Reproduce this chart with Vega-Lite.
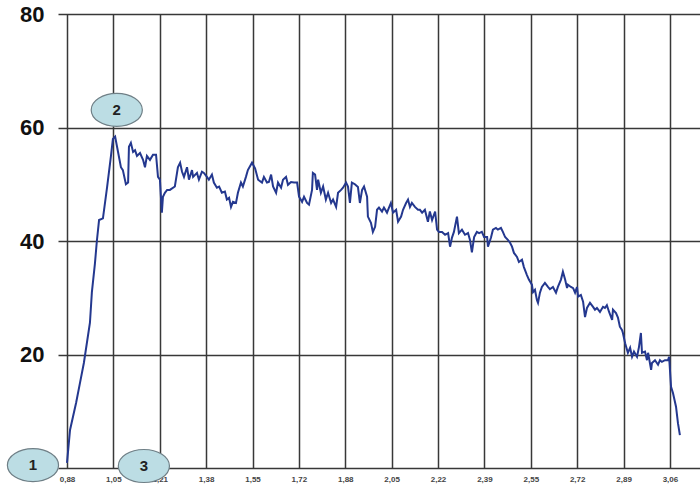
{
  "$schema": "https://vega.github.io/schema/vega-lite/v6.json",
  "width": 642,
  "height": 454,
  "autosize": {"type": "none"},
  "padding": {"left": 58, "top": 14, "right": 0, "bottom": 19},
  "background": "white",
  "config": {"view": {"stroke": null}},
  "datasets": {
    "curve": [
      {"x": 0.880, "y": 0.9}, {"x": 0.891, "y": 6.7}, {"x": 0.913, "y": 11.5}, {"x": 0.927, "y": 15.0},
      {"x": 0.941, "y": 18.5}, {"x": 0.963, "y": 25.6}, {"x": 0.970, "y": 31.0}, {"x": 0.981, "y": 36.0},
      {"x": 0.988, "y": 40.0}, {"x": 0.996, "y": 43.7}, {"x": 1.010, "y": 44.0}, {"x": 1.025, "y": 49.5},
      {"x": 1.039, "y": 55.0}, {"x": 1.046, "y": 58.0}, {"x": 1.054, "y": 58.4}, {"x": 1.061, "y": 56.6},
      {"x": 1.075, "y": 53.0}, {"x": 1.082, "y": 52.5}, {"x": 1.093, "y": 50.0}, {"x": 1.101, "y": 50.3},
      {"x": 1.104, "y": 56.6}, {"x": 1.111, "y": 57.3}, {"x": 1.119, "y": 55.7}, {"x": 1.126, "y": 56.0},
      {"x": 1.133, "y": 55.0}, {"x": 1.144, "y": 55.5}, {"x": 1.155, "y": 54.3}, {"x": 1.162, "y": 53.0},
      {"x": 1.169, "y": 55.0}, {"x": 1.180, "y": 54.3}, {"x": 1.191, "y": 55.2}, {"x": 1.202, "y": 55.2},
      {"x": 1.209, "y": 51.3}, {"x": 1.216, "y": 50.8}, {"x": 1.223, "y": 45.0}, {"x": 1.227, "y": 47.8},
      {"x": 1.234, "y": 48.5}, {"x": 1.242, "y": 49.0}, {"x": 1.252, "y": 49.0}, {"x": 1.270, "y": 49.6},
      {"x": 1.281, "y": 53.0}, {"x": 1.289, "y": 53.8}, {"x": 1.296, "y": 52.2}, {"x": 1.303, "y": 51.3},
      {"x": 1.314, "y": 53.0}, {"x": 1.321, "y": 50.8}, {"x": 1.332, "y": 52.5}, {"x": 1.336, "y": 51.3},
      {"x": 1.350, "y": 52.0}, {"x": 1.357, "y": 50.8}, {"x": 1.368, "y": 52.2}, {"x": 1.375, "y": 52.0},
      {"x": 1.386, "y": 51.3}, {"x": 1.393, "y": 50.8}, {"x": 1.404, "y": 51.7}, {"x": 1.411, "y": 50.3},
      {"x": 1.422, "y": 49.4}, {"x": 1.430, "y": 49.6}, {"x": 1.440, "y": 48.5}, {"x": 1.451, "y": 48.7},
      {"x": 1.458, "y": 47.3}, {"x": 1.466, "y": 47.6}, {"x": 1.473, "y": 46.0}, {"x": 1.480, "y": 46.9},
      {"x": 1.491, "y": 46.7}, {"x": 1.498, "y": 48.5}, {"x": 1.509, "y": 50.3}, {"x": 1.516, "y": 49.6},
      {"x": 1.527, "y": 51.3}, {"x": 1.534, "y": 52.5}, {"x": 1.549, "y": 53.8}, {"x": 1.560, "y": 52.8},
      {"x": 1.571, "y": 50.8}, {"x": 1.585, "y": 50.3}, {"x": 1.592, "y": 51.3}, {"x": 1.603, "y": 50.3},
      {"x": 1.610, "y": 50.4}, {"x": 1.618, "y": 51.7}, {"x": 1.625, "y": 49.6}, {"x": 1.636, "y": 48.5},
      {"x": 1.643, "y": 50.3}, {"x": 1.654, "y": 49.4}, {"x": 1.661, "y": 50.8}, {"x": 1.672, "y": 51.3},
      {"x": 1.679, "y": 49.9}, {"x": 1.690, "y": 50.4}, {"x": 1.701, "y": 50.3}, {"x": 1.712, "y": 50.3},
      {"x": 1.719, "y": 47.8}, {"x": 1.730, "y": 46.9}, {"x": 1.737, "y": 47.8}, {"x": 1.748, "y": 46.7},
      {"x": 1.755, "y": 46.4}, {"x": 1.766, "y": 49.0}, {"x": 1.769, "y": 52.0}, {"x": 1.777, "y": 51.7},
      {"x": 1.784, "y": 49.0}, {"x": 1.788, "y": 50.8}, {"x": 1.798, "y": 48.5}, {"x": 1.806, "y": 49.6},
      {"x": 1.816, "y": 47.3}, {"x": 1.824, "y": 48.5}, {"x": 1.835, "y": 46.7}, {"x": 1.842, "y": 47.3},
      {"x": 1.853, "y": 46.0}, {"x": 1.860, "y": 48.5}, {"x": 1.871, "y": 49.0}, {"x": 1.878, "y": 49.4},
      {"x": 1.889, "y": 50.3}, {"x": 1.896, "y": 49.6}, {"x": 1.903, "y": 46.7}, {"x": 1.910, "y": 50.3},
      {"x": 1.921, "y": 50.0}, {"x": 1.932, "y": 49.5}, {"x": 1.939, "y": 46.7}, {"x": 1.947, "y": 49.0},
      {"x": 1.954, "y": 49.6}, {"x": 1.965, "y": 47.8}, {"x": 1.968, "y": 44.3}, {"x": 1.979, "y": 43.2},
      {"x": 1.986, "y": 41.6}, {"x": 1.994, "y": 42.5}, {"x": 2.001, "y": 45.5}, {"x": 2.008, "y": 45.9},
      {"x": 2.019, "y": 45.2}, {"x": 2.026, "y": 45.9}, {"x": 2.037, "y": 45.0}, {"x": 2.041, "y": 45.5},
      {"x": 2.051, "y": 46.7}, {"x": 2.059, "y": 45.0}, {"x": 2.070, "y": 45.5}, {"x": 2.077, "y": 43.4},
      {"x": 2.088, "y": 44.3}, {"x": 2.095, "y": 45.5}, {"x": 2.106, "y": 46.7}, {"x": 2.113, "y": 47.3},
      {"x": 2.120, "y": 46.0}, {"x": 2.127, "y": 46.7}, {"x": 2.138, "y": 46.0}, {"x": 2.149, "y": 45.5},
      {"x": 2.156, "y": 45.5}, {"x": 2.164, "y": 45.0}, {"x": 2.174, "y": 45.5}, {"x": 2.185, "y": 43.4},
      {"x": 2.192, "y": 45.2}, {"x": 2.200, "y": 43.7}, {"x": 2.211, "y": 45.2}, {"x": 2.218, "y": 42.0},
      {"x": 2.225, "y": 41.6}, {"x": 2.236, "y": 41.6}, {"x": 2.247, "y": 41.1}, {"x": 2.258, "y": 41.4},
      {"x": 2.265, "y": 39.0}, {"x": 2.272, "y": 40.6}, {"x": 2.279, "y": 41.6}, {"x": 2.290, "y": 44.3},
      {"x": 2.297, "y": 41.4}, {"x": 2.308, "y": 42.0}, {"x": 2.319, "y": 41.1}, {"x": 2.330, "y": 41.4},
      {"x": 2.337, "y": 40.2}, {"x": 2.344, "y": 38.0}, {"x": 2.352, "y": 40.7}, {"x": 2.362, "y": 41.6},
      {"x": 2.370, "y": 41.4}, {"x": 2.380, "y": 41.6}, {"x": 2.388, "y": 40.7}, {"x": 2.399, "y": 40.7},
      {"x": 2.402, "y": 39.0}, {"x": 2.413, "y": 40.6}, {"x": 2.420, "y": 42.0}, {"x": 2.431, "y": 42.3},
      {"x": 2.438, "y": 42.0}, {"x": 2.449, "y": 42.3}, {"x": 2.456, "y": 41.6}, {"x": 2.464, "y": 40.7},
      {"x": 2.474, "y": 40.2}, {"x": 2.482, "y": 39.7}, {"x": 2.489, "y": 39.0}, {"x": 2.496, "y": 37.9},
      {"x": 2.507, "y": 37.2}, {"x": 2.514, "y": 36.3}, {"x": 2.525, "y": 36.7}, {"x": 2.532, "y": 35.4},
      {"x": 2.543, "y": 34.0}, {"x": 2.550, "y": 33.2}, {"x": 2.561, "y": 32.3}, {"x": 2.565, "y": 31.0},
      {"x": 2.572, "y": 31.4}, {"x": 2.579, "y": 29.6}, {"x": 2.583, "y": 29.1}, {"x": 2.590, "y": 30.9},
      {"x": 2.597, "y": 31.9}, {"x": 2.608, "y": 32.6}, {"x": 2.619, "y": 31.9}, {"x": 2.626, "y": 31.5},
      {"x": 2.637, "y": 31.9}, {"x": 2.648, "y": 30.9}, {"x": 2.655, "y": 31.9}, {"x": 2.666, "y": 33.2},
      {"x": 2.673, "y": 34.6}, {"x": 2.681, "y": 33.2}, {"x": 2.688, "y": 31.7}, {"x": 2.691, "y": 32.3},
      {"x": 2.702, "y": 31.9}, {"x": 2.710, "y": 31.7}, {"x": 2.717, "y": 30.9}, {"x": 2.724, "y": 31.9},
      {"x": 2.728, "y": 30.2}, {"x": 2.738, "y": 30.5}, {"x": 2.746, "y": 29.3}, {"x": 2.753, "y": 26.6},
      {"x": 2.760, "y": 28.2}, {"x": 2.771, "y": 29.1}, {"x": 2.782, "y": 28.4}, {"x": 2.789, "y": 27.9},
      {"x": 2.796, "y": 28.2}, {"x": 2.807, "y": 27.5}, {"x": 2.818, "y": 28.4}, {"x": 2.825, "y": 28.2},
      {"x": 2.832, "y": 28.7}, {"x": 2.840, "y": 27.5}, {"x": 2.851, "y": 26.1}, {"x": 2.854, "y": 27.9},
      {"x": 2.865, "y": 27.3}, {"x": 2.872, "y": 26.5}, {"x": 2.879, "y": 24.9}, {"x": 2.887, "y": 24.3},
      {"x": 2.890, "y": 23.8}, {"x": 2.898, "y": 22.0}, {"x": 2.905, "y": 20.8}, {"x": 2.908, "y": 20.3},
      {"x": 2.916, "y": 21.2}, {"x": 2.923, "y": 19.6}, {"x": 2.930, "y": 20.5}, {"x": 2.941, "y": 19.6},
      {"x": 2.948, "y": 21.3}, {"x": 2.955, "y": 23.8}, {"x": 2.959, "y": 20.3}, {"x": 2.970, "y": 20.5},
      {"x": 2.977, "y": 19.0}, {"x": 2.981, "y": 20.3}, {"x": 2.992, "y": 17.3}, {"x": 2.995, "y": 18.5},
      {"x": 3.006, "y": 19.0}, {"x": 3.017, "y": 18.2}, {"x": 3.024, "y": 19.0}, {"x": 3.031, "y": 18.7},
      {"x": 3.042, "y": 19.0}, {"x": 3.053, "y": 19.0}, {"x": 3.057, "y": 19.6}, {"x": 3.064, "y": 14.3},
      {"x": 3.071, "y": 13.2}, {"x": 3.082, "y": 10.8}, {"x": 3.089, "y": 7.9}, {"x": 3.096, "y": 5.8}
    ],
    "marks": [
      {"x": 0.757, "y": 0.5, "label": "1"},
      {"x": 1.060, "y": 63.1, "label": "2"},
      {"x": 1.158, "y": 0.35, "label": "3"}
    ]
  },
  "layer": [
    {
      "data": {"name": "curve"},
      "mark": {"type": "line", "color": "#24388f", "strokeWidth": 2, "interpolate": "linear"},
      "encoding": {
        "x": {
          "field": "x", "type": "quantitative",
          "scale": {"domain": [0.8475, 3.1687], "nice": false, "zero": false},
          "axis": {
            "title": null,
            "values": [0.88, 1.04769, 1.21538, 1.38308, 1.55077, 1.71846, 1.88615, 2.05385, 2.22154, 2.38923, 2.55692, 2.72462, 2.89231, 3.06],
            "labelExpr": "['0,88','1,05','1,21','1,38','1,55','1,72','1,88','2,05','2,22','2,39','2,55','2,72','2,89','3,06'][round((datum.value-0.88)/0.167692)]",
            "grid": true, "gridColor": "#383838", "gridWidth": 1.5, "gridOpacity": 1,
            "domain": false, "ticks": false,
            "labelFont": "Liberation Sans", "labelFontSize": 8, "labelFontWeight": "bold",
            "labelColor": "#444444", "labelPadding": 7, "labelFlush": false, "labelOverlap": false
          }
        },
        "y": {
          "field": "y", "type": "quantitative",
          "scale": {"domain": [0, 80], "nice": false},
          "axis": {
            "title": null,
            "values": [0, 20, 40, 60, 80],
            "labelExpr": "datum.value == 0 ? '' : datum.label",
            "grid": true, "gridColor": "#383838", "gridWidth": 1.5, "gridOpacity": 1,
            "domain": false, "ticks": false,
            "labelFont": "Liberation Sans", "labelFontSize": 22, "labelFontWeight": "bold",
            "labelColor": "#111111", "labelPadding": 14, "labelFlush": false, "labelOverlap": false
          }
        }
      }
    },
    {
      "data": {"name": "marks"},
      "mark": {
        "type": "point", "filled": true, "fill": "#bcdde4", "fillOpacity": 1,
        "stroke": "#6f7f86", "strokeWidth": 1.2, "size": 1089, "opacity": 1,
        "shape": "M-1.55,0C-1.55,-0.5523,-0.856,-1,0,-1C0.856,-1,1.55,-0.5523,1.55,0C1.55,0.5523,0.856,1,0,1C-0.856,1,-1.55,0.5523,-1.55,0Z"
      },
      "encoding": {
        "x": {"field": "x", "type": "quantitative"},
        "y": {"field": "y", "type": "quantitative"}
      }
    },
    {
      "data": {"name": "marks"},
      "mark": {"type": "text", "font": "Liberation Sans", "fontSize": 15, "fontWeight": "bold", "color": "#222222", "baseline": "middle", "align": "center"},
      "encoding": {
        "x": {"field": "x", "type": "quantitative"},
        "y": {"field": "y", "type": "quantitative"},
        "text": {"field": "label"}
      }
    }
  ]
}
